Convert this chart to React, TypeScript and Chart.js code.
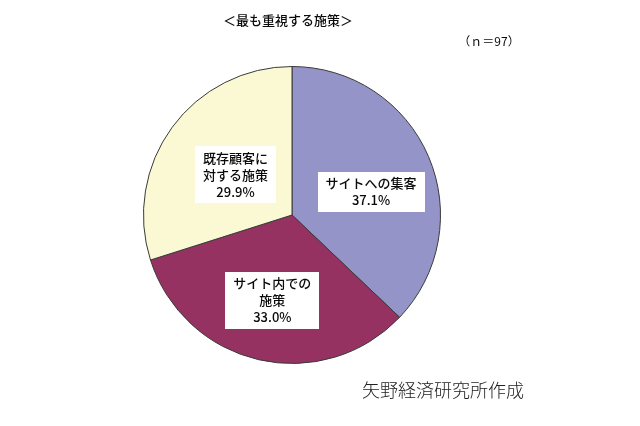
import { useEffect, useRef } from "react"
import { Chart, registerables } from "chart.js"
import type { Plugin } from "chart.js"

Chart.register(...registerables)

// Data
const categories = ["サイトへの集客", "サイト内での施策", "既存顧客に対する施策"]
const shares = [37.1, 33.0, 29.9]
// label lines as printed in the boxes
const labelLines = [
  ["サイトへの集客", "37.1%"],
  ["サイト内での", "施策", "33.0%"],
  ["既存顧客に", "対する施策", "29.9%"],
]
const titleText = "＜最も重視する施策＞"
const sampleText = "（ｎ＝97）"
const sourceText = "矢野経済研究所作成"

const sliceColors = ["#9494c8", "#953262", "#fbf9d3"]
// label placement: fraction of radius along slice bisector, plus small nudge
const labelRadius = [0.55, 0.59, 0.48]
const labelNudge = [
  [4, 9],
  [0, 0],
  [1, 2],
]

const CJK = '"Noto Sans CJK JP", "Noto Sans", sans-serif'

const textPlugin: Plugin<"pie"> = {
  id: "textPlugin",
  afterDatasetsDraw(chart) {
    const ctx = chart.ctx
    const meta = chart.getDatasetMeta(0)
    ctx.save()
    ctx.font = `500 13px ${CJK}`
    ctx.textAlign = "center"
    ctx.textBaseline = "middle"
    const lineH = 17
    meta.data.forEach((el, i) => {
      const arc = el as any
      const { x, y, startAngle, endAngle, outerRadius } = arc.getProps(
        ["x", "y", "startAngle", "endAngle", "outerRadius"],
        true
      )
      const mid = (startAngle + endAngle) / 2
      const r = outerRadius * labelRadius[i]
      const cx = x + Math.cos(mid) * r + labelNudge[i][0]
      const cy = y + Math.sin(mid) * r + labelNudge[i][1]
      const lines = labelLines[i]
      const w = Math.max(...lines.map((l) => ctx.measureText(l).width)) + 16
      const h = lines.length * lineH + 6
      ctx.fillStyle = "#ffffff"
      ctx.fillRect(Math.round(cx - w / 2), Math.round(cy - h / 2), Math.round(w), Math.round(h))
      ctx.fillStyle = "#0a0a0a"
      lines.forEach((l, j) => {
        ctx.fillText(l, cx, cy - h / 2 + 3 + lineH * j + lineH / 2)
      })
    })

    // title, sample size, source
    ctx.fillStyle = "#0a0a0a"
    ctx.font = `500 13px ${CJK}`
    ctx.textAlign = "center"
    ctx.fillText(titleText, 288, 20)
    ctx.font = `12px ${CJK}`
    ctx.fillText(sampleText, 489, 41)
    ctx.font = `300 18px ${CJK}`
    ctx.fillStyle = "#222222"
    ctx.fillText(sourceText, 443, 390)
    ctx.restore()
  },
}

export default function App() {
  const chartRef = useRef<HTMLCanvasElement>(null)
  const chartInstance = useRef<Chart<"pie"> | null>(null)

  useEffect(() => {
    document.body.style.margin = "0"
    if (!chartRef.current) return
    if (chartInstance.current) chartInstance.current.destroy()
    const ctx = chartRef.current.getContext("2d")
    if (!ctx) return

    chartInstance.current = new Chart(ctx, {
      type: "pie",
      data: {
        labels: categories,
        datasets: [
          {
            data: shares,
            backgroundColor: sliceColors,
            borderColor: "#3a3a3a",
            borderWidth: 1,
          },
        ],
      },
      options: {
        responsive: false,
        animation: false,
        layout: {
          padding: { left: 143, right: 199, top: 66, bottom: 62 },
        },
        plugins: {
          legend: { display: false },
          tooltip: { enabled: false },
          title: { display: false },
        },
      },
      plugins: [textPlugin],
    })

    return () => {
      if (chartInstance.current) {
        chartInstance.current.destroy()
        chartInstance.current = null
      }
    }
  }, [])

  return (
    <div style={{ width: 640, height: 426, background: "#ffffff" }}>
      <canvas ref={chartRef} width={640} height={426} aria-label="最も重視する施策"></canvas>
    </div>
  )
}
